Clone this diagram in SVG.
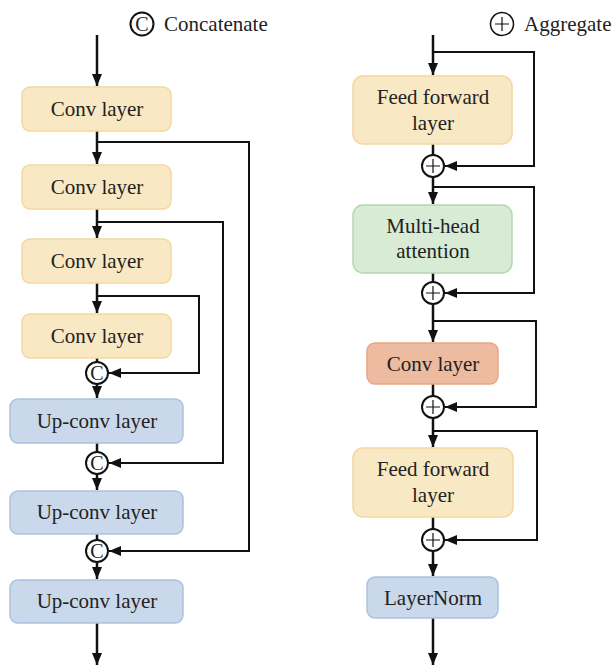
<svg xmlns="http://www.w3.org/2000/svg" width="615" height="665" viewBox="0 0 615 665">
<style>
text{font-family:"Liberation Serif","Times New Roman",serif;font-size:21px;fill:#222;text-anchor:middle;}
.y{fill:#f8e8c3;stroke:#f3d8a0;stroke-width:1.5;}
.b{fill:#c9d8ea;stroke:#abc2e0;stroke-width:1.5;}
.g{fill:#d7ebd5;stroke:#b5d8b1;stroke-width:1.5;}
.r{fill:#ecbba0;stroke:#e6a785;stroke-width:1.5;}
.m{fill:none;stroke:#111;stroke-width:2.5;}
.s{fill:none;stroke:#111;stroke-width:2;}
.op{fill:#fff;stroke:#111;stroke-width:2;}
.sym{font-size:20px;}
.pl{stroke:#111;stroke-width:1.2;}
</style>
<defs>
<marker id="a" markerUnits="userSpaceOnUse" markerWidth="12" markerHeight="12" viewBox="0 0 12 12" refX="12" refY="6" orient="auto">
<path d="M0,1 L12,6 L0,11 Z" fill="#111"/>
</marker>
</defs>
<g id="legend">
<circle cx="142" cy="24" r="11.5" fill="none" stroke="#111" stroke-width="2"/>
<text x="142" y="31" class="sym">C</text>
<text x="164" y="31" style="text-anchor:start">Concatenate</text>
<circle cx="502" cy="24" r="11.5" fill="none" stroke="#111" stroke-width="1.5"/>
<path class="pl" d="M495,24 H509 M502,17 V31"/>
<text x="524" y="31" style="text-anchor:start">Aggregate</text>
</g>
<g id="connectors">
<path class="m" d="M97,35 V86" marker-end="url(#a)"/>
<path class="m" d="M97,131 V164" marker-end="url(#a)"/>
<path class="s" d="M97,142 H249 V551 H109" marker-end="url(#a)"/>
<path class="m" d="M97,209 V238" marker-end="url(#a)"/>
<path class="s" d="M97,222 H223 V463 H109" marker-end="url(#a)"/>
<path class="m" d="M97,283 V313" marker-end="url(#a)"/>
<path class="s" d="M97,296 H199 V373 H109" marker-end="url(#a)"/>
<path class="m" d="M97,358 V362"/>
<path class="m" d="M97,384 V398" marker-end="url(#a)"/>
<path class="m" d="M97,443 V452"/>
<path class="m" d="M97,474 V490" marker-end="url(#a)"/>
<path class="m" d="M97,534 V540"/>
<path class="m" d="M97,562 V579" marker-end="url(#a)"/>
<path class="m" d="M97,623 V665" marker-end="url(#a)"/>
<path class="m" d="M433,35 V75" marker-end="url(#a)"/>
<path class="s" d="M433,52 H534 V166 H445" marker-end="url(#a)"/>
<path class="m" d="M433,144 V155"/>
<path class="m" d="M433,177 V204" marker-end="url(#a)"/>
<path class="s" d="M433,187 H534 V293 H445" marker-end="url(#a)"/>
<path class="m" d="M433,273 V282"/>
<path class="m" d="M433,304 V342" marker-end="url(#a)"/>
<path class="s" d="M433,321 H536 V407 H445" marker-end="url(#a)"/>
<path class="m" d="M433,384 V396"/>
<path class="m" d="M433,418 V447" marker-end="url(#a)"/>
<path class="s" d="M433,431 H537 V540 H445" marker-end="url(#a)"/>
<path class="m" d="M433,517 V529"/>
<path class="m" d="M433,551 V576" marker-end="url(#a)"/>
<path class="m" d="M433,618 V665" marker-end="url(#a)"/>
</g>
<g id="conv1"><rect class="y" x="22" y="87" width="149" height="44" rx="8"/><text x="97" y="116">Conv layer</text></g>
<g id="conv2"><rect class="y" x="22" y="165" width="149" height="44" rx="8"/><text x="97" y="194">Conv layer</text></g>
<g id="conv3"><rect class="y" x="22" y="239" width="149" height="44" rx="8"/><text x="97" y="268">Conv layer</text></g>
<g id="conv4"><rect class="y" x="22" y="314" width="149" height="44" rx="8"/><text x="97" y="343">Conv layer</text></g>
<g id="cat1"><circle class="op" cx="97" cy="373" r="11"/><text x="97" y="380" class="sym">C</text></g>
<g id="upconv1"><rect class="b" x="10" y="399" width="173" height="44" rx="8"/><text x="97" y="428">Up-conv layer</text></g>
<g id="cat2"><circle class="op" cx="97" cy="463" r="11"/><text x="97" y="470" class="sym">C</text></g>
<g id="upconv2"><rect class="b" x="10" y="491" width="173" height="43" rx="8"/><text x="97" y="519">Up-conv layer</text></g>
<g id="cat3"><circle class="op" cx="97" cy="551" r="11"/><text x="97" y="558" class="sym">C</text></g>
<g id="upconv3"><rect class="b" x="10" y="580" width="173" height="43" rx="8"/><text x="97" y="608">Up-conv layer</text></g>
<g id="ff1"><rect class="y" x="353" y="76" width="159" height="68" rx="10"/><text x="433" y="104">Feed forward</text><text x="433" y="130">layer</text></g>
<g id="add1"><circle class="op" cx="433" cy="166" r="11"/><path class="pl" d="M426,166 H440 M433,159 V173"/></g>
<g id="mha"><rect class="g" x="353" y="205" width="159" height="68" rx="10"/><text x="433" y="233">Multi-head</text><text x="433" y="258">attention</text></g>
<g id="add2"><circle class="op" cx="433" cy="293" r="11"/><path class="pl" d="M426,293 H440 M433,286 V300"/></g>
<g id="conv5"><rect class="r" x="367" y="343" width="131" height="41" rx="8"/><text x="433" y="371">Conv layer</text></g>
<g id="add3"><circle class="op" cx="433" cy="407" r="11"/><path class="pl" d="M426,407 H440 M433,400 V414"/></g>
<g id="ff2"><rect class="y" x="353" y="448" width="160" height="69" rx="10"/><text x="433" y="476">Feed forward</text><text x="433" y="502">layer</text></g>
<g id="add4"><circle class="op" cx="433" cy="540" r="11"/><path class="pl" d="M426,540 H440 M433,533 V547"/></g>
<g id="layernorm"><rect class="b" x="367" y="577" width="131" height="41" rx="8"/><text x="433" y="605">LayerNorm</text></g>
</svg>
